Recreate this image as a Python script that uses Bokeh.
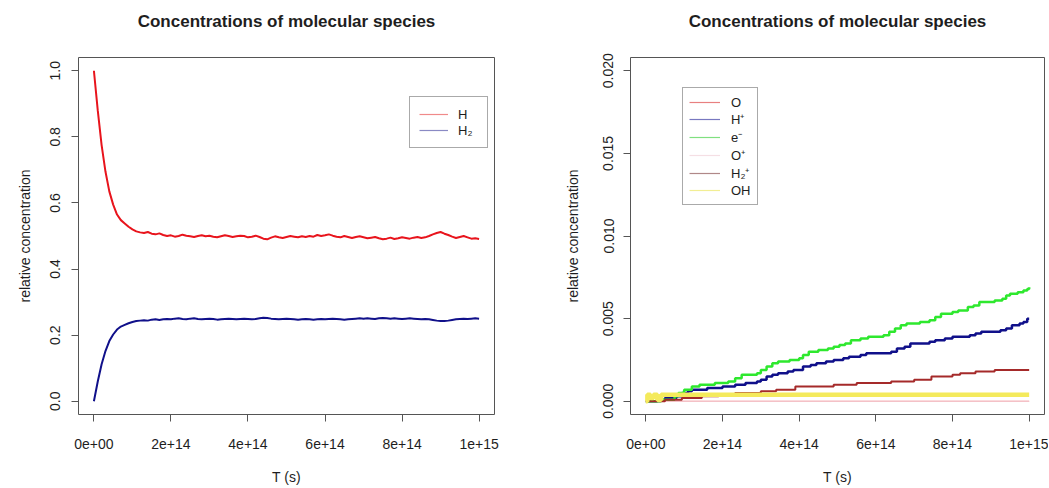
from bokeh.plotting import figure
from bokeh.models import FixedTicker, Legend, LegendItem, Range1d, Title
from bokeh.layouts import row
from bokeh.embed import file_html
from bokeh.resources import INLINE

FONT = "Liberation Sans"
TXT = "#1e1e1e"
BOX = "#555555"
NAN = float("nan")

# ---------------- data ----------------
title_text = "Concentrations of molecular species"
x_label = "T (s)"
y_label = "relative concentration"

x_ticks = [0, 200000000000000, 400000000000000, 600000000000000, 800000000000000, 1000000000000000]
x_tick_labels = ["0e+00", "2e+14", "4e+14", "6e+14", "8e+14", "1e+15"]
left_y_ticks = [0.0, 0.2, 0.4, 0.6, 0.8, 1.0]
left_y_tick_labels = ["0.0", "0.2", "0.4", "0.6", "0.8", "1.0"]
right_y_ticks = [0.0, 0.005, 0.01, 0.015, 0.02]
right_y_tick_labels = ["0.000", "0.005", "0.010", "0.015", "0.020"]

# left panel: time in units of 1e13 s
t_left = list(range(0, 101))
H = [1.000, 0.880, 0.775, 0.695, 0.635, 0.595, 0.565, 0.548, 0.538, 0.528,
     0.520, 0.514, 0.511, 0.509, 0.512, 0.507, 0.505, 0.508, 0.503, 0.500,
     0.502, 0.498, 0.500, 0.504, 0.501, 0.499, 0.497, 0.500, 0.502, 0.499,
     0.501, 0.498, 0.496, 0.499, 0.502, 0.500, 0.497, 0.499, 0.501, 0.500,
     0.496, 0.498, 0.501, 0.497, 0.492, 0.490, 0.495, 0.499, 0.496, 0.494,
     0.497, 0.500, 0.498, 0.496, 0.499, 0.497, 0.500, 0.498, 0.503, 0.500,
     0.502, 0.505, 0.501, 0.498, 0.496, 0.500, 0.497, 0.494, 0.497, 0.499,
     0.496, 0.493, 0.495, 0.497, 0.493, 0.490, 0.492, 0.495, 0.491, 0.493,
     0.496, 0.494, 0.492, 0.495, 0.497, 0.494, 0.496, 0.500, 0.505, 0.509,
     0.512, 0.507, 0.503, 0.498, 0.494, 0.497, 0.500, 0.496, 0.492, 0.493,
     0.491]
H2 = [0.000, 0.060, 0.112, 0.152, 0.182, 0.202, 0.217, 0.226, 0.231, 0.236,
      0.240, 0.243, 0.244, 0.245, 0.244, 0.247, 0.248, 0.246, 0.248, 0.249,
      0.248, 0.250, 0.251, 0.249, 0.248, 0.250, 0.251, 0.249, 0.248, 0.249,
      0.250, 0.249, 0.247, 0.248, 0.249, 0.250, 0.249, 0.248, 0.249, 0.250,
      0.249, 0.248, 0.249, 0.251, 0.253, 0.252, 0.250, 0.249, 0.248, 0.249,
      0.250, 0.249, 0.248, 0.247, 0.248, 0.249, 0.248, 0.247, 0.248, 0.249,
      0.248, 0.249, 0.250, 0.249, 0.248, 0.247, 0.248, 0.249, 0.250, 0.251,
      0.250, 0.251, 0.250, 0.249, 0.251, 0.252, 0.251, 0.250, 0.251, 0.250,
      0.249, 0.250, 0.251, 0.250, 0.249, 0.248, 0.249, 0.248, 0.246, 0.244,
      0.243, 0.243, 0.244, 0.246, 0.248, 0.249, 0.250, 0.249, 0.250, 0.251,
      0.250]

# right panel: step series, time in units of 1e15 s
O_t = [0.0, 1.0]
O_v = [0.0, 0.0]
Op_t = [0.0, 1.0]
Op_v = [0.0, 0.0]
Hp_t = [0.0, 0.03, 0.05, 0.08, 0.094, 0.11, 0.12, 0.16, 0.20, 0.233, 0.26, 0.29,
        0.30, 0.315, 0.33, 0.345, 0.37, 0.385, 0.41, 0.43, 0.445, 0.47, 0.49,
        0.515, 0.53, 0.56, 0.575, 0.64, 0.655, 0.675, 0.69, 0.74, 0.755, 0.78,
        0.80, 0.845, 0.86, 0.875, 0.925, 0.94, 0.955, 0.975, 0.985, 0.995, 1.0]
Hp_v = [0.0, 0.0001, 0.0002, 0.0003, 0.0005, 0.0006, 0.0007, 0.0008, 0.0009,
        0.0010, 0.0011, 0.0012, 0.0013, 0.0015, 0.0016, 0.0017, 0.0018, 0.0019,
        0.0021, 0.0022, 0.0023, 0.0024, 0.0025, 0.0026, 0.0027, 0.0028, 0.0029,
        0.0030, 0.0032, 0.0033, 0.0035, 0.0036, 0.0037, 0.0038, 0.0039, 0.0040,
        0.0041, 0.0042, 0.0043, 0.0044, 0.0046, 0.0047, 0.0048, 0.0050, 0.0050]
e_t = [0.0, 0.04, 0.075, 0.085, 0.10, 0.12, 0.14, 0.18, 0.215, 0.233, 0.25, 0.29,
       0.30, 0.315, 0.33, 0.345, 0.375, 0.40, 0.41, 0.425, 0.45, 0.475, 0.49,
       0.505, 0.52, 0.535, 0.56, 0.58, 0.62, 0.635, 0.65, 0.665, 0.68, 0.715,
       0.74, 0.755, 0.77, 0.80, 0.815, 0.84, 0.855, 0.87, 0.91, 0.93, 0.94,
       0.95, 0.97, 0.985, 0.995, 1.0]
e_v = [0.0, 0.0001, 0.0003, 0.0005, 0.0007, 0.0009, 0.0010, 0.0011, 0.0012,
       0.0014, 0.0016, 0.0017, 0.0019, 0.0021, 0.0023, 0.0024, 0.0025, 0.0026,
       0.0028, 0.0030, 0.0031, 0.0032, 0.0033, 0.0034, 0.0035, 0.0037, 0.0038,
       0.0039, 0.0040, 0.0042, 0.0044, 0.0046, 0.0047, 0.0048, 0.0049, 0.0051,
       0.0053, 0.0054, 0.0055, 0.0057, 0.0058, 0.0060, 0.0061, 0.0062, 0.0064,
       0.0065, 0.0066, 0.0067, 0.0068, 0.0069]
H2p_t = [0.0, 0.05, 0.094, 0.146, 0.19, 0.233, 0.30, 0.34, 0.39, 0.49, 0.55,
         0.64, 0.70, 0.745, 0.80, 0.82, 0.86, 0.91, 1.0]
H2p_v = [0.0, 0.0001, 0.0002, 0.0003, 0.0004, 0.0005, 0.0006, 0.0007, 0.0009,
         0.0010, 0.0011, 0.0012, 0.0013, 0.0015, 0.0016, 0.0017, 0.0018, 0.0019,
         0.0019]
OH_t = [0.0, 0.004, 0.012, 0.02, 0.03, 0.04, 1.0]
OH_v = [0.0, 0.0004, 0.0002, 0.0004, 0.0001, 0.0004, 0.0004]

left_names = ["H", "H\u2082"]
right_names = ["O", "H\u207a", "e\u207b", "O\u207a", "H\u2082\u207a", "OH"]


def style(p, yticks, ylabels):
    p.xgrid.visible = False
    p.ygrid.visible = False
    p.outline_line_color = BOX
    p.outline_line_width = 1
    p.background_fill_color = "white"
    p.border_fill_color = "white"
    # main title (outermost)
    p.title.text = title_text
    p.title.text_font = FONT
    p.title.text_font_size = "17px"
    p.title.text_font_style = "bold"
    p.title.text_color = TXT
    p.title.align = "center"
    p.title.standoff = 0
    # blank spacer between the frame and the title
    p.add_layout(Title(text=" ", text_font_size="1px", standoff=24), "above")
    p.xaxis.ticker = FixedTicker(ticks=x_ticks)
    p.xaxis.major_label_overrides = dict(zip(x_ticks, x_tick_labels))
    p.yaxis.ticker = FixedTicker(ticks=yticks)
    p.yaxis.major_label_overrides = dict(zip(yticks, ylabels))
    p.yaxis.major_label_orientation = "vertical"
    p.xaxis.axis_label = x_label
    p.yaxis.axis_label = y_label
    for ax in (p.xaxis, p.yaxis):
        ax.axis_line_color = None
        ax.major_tick_line_color = BOX
        ax.major_tick_out = 7
        ax.major_tick_in = 0
        ax.minor_tick_line_color = None
        ax.major_label_text_font = FONT
        ax.major_label_text_font_size = "14px"
        ax.major_label_text_color = TXT
        ax.axis_label_text_font = FONT
        ax.axis_label_text_font_size = "14px"
        ax.axis_label_text_font_style = "normal"
        ax.axis_label_text_color = TXT
    p.xaxis.major_label_standoff = 17
    p.xaxis.axis_label_standoff = 17
    p.yaxis.major_label_standoff = 11
    p.yaxis.axis_label_standoff = 15


def legend_line(p, col):
    return p.line([NAN], [NAN], line_color=col, line_width=1.2)


# ---------------- left panel ----------------
p1 = figure(width=540, height=487, output_backend="svg", toolbar_location=None,
            x_range=Range1d(-0.04e15, 1.04e15), y_range=Range1d(-0.04, 1.04),
            min_border_left=78, min_border_right=46, min_border_top=57,
            min_border_bottom=67)
style(p1, left_y_ticks, left_y_tick_labels)
tl = [t * 1e13 for t in t_left]
p1.line(tl, H, line_color="#e8141c", line_width=2)
p1.line(tl, H2, line_color="#10108a", line_width=2)
lg1 = legend_line(p1, "#f08a8a")
lg2 = legend_line(p1, "#8a8ac4")
leg1 = Legend(items=[LegendItem(label=left_names[0], renderers=[lg1]),
                     LegendItem(label=left_names[1], renderers=[lg2])],
              location=(331, 266), padding=9, spacing=0, margin=0,
              label_height=16, glyph_height=16, glyph_width=29, label_standoff=10,
              label_text_font=FONT, label_text_font_size="13px", label_text_color=TXT,
              border_line_color=BOX, border_line_width=1, background_fill_color="white",
              background_fill_alpha=1.0)
p1.add_layout(leg1)

# ---------------- right panel ----------------
p2 = figure(width=508, height=487, output_backend="svg", toolbar_location=None,
            x_range=Range1d(-0.04e15, 1.04e15), y_range=Range1d(-0.0008, 0.0208),
            min_border_left=90, min_border_right=4, min_border_top=57,
            min_border_bottom=71)
style(p2, right_y_ticks, right_y_tick_labels)
p2.yaxis.major_label_standoff = 10
p2.yaxis.axis_label_standoff = 20


def sec(ts):
    return [t * 1e15 for t in ts]


p2.step(sec(O_t), O_v, mode="after", line_color="#f07070", line_width=1)
p2.step(sec(Op_t), Op_v, mode="after", line_color="#f5d0d8", line_width=1)
p2.step(sec(Hp_t), Hp_v, mode="after", line_color="#10108a", line_width=2.5)
p2.step(sec(e_t), e_v, mode="after", line_color="#2ee82e", line_width=2.5)
p2.step(sec(H2p_t), H2p_v, mode="after", line_color="#a52a2a", line_width=2)
p2.step(sec(OH_t), OH_v, mode="after", line_color="#f4ea5c", line_width=4.5)

leg_colors = ["#e88080", "#7878c0", "#80e080", "#f5dfe4", "#b08888", "#f2ee94"]
items = []
for name, col in zip(right_names, leg_colors):
    r = legend_line(p2, col)
    items.append(LegendItem(label=name, renderers=[r]))
leg2 = Legend(items=items, location=(52, 209), padding=6, spacing=0, margin=0,
              label_height=16, glyph_height=16, glyph_width=31, label_standoff=11,
              label_text_font=FONT, label_text_font_size="13px", label_text_color=TXT,
              border_line_color=BOX, border_line_width=1, background_fill_color="white",
              background_fill_alpha=1.0)
p2.add_layout(leg2)

layout = row(p1, p2)
open("out.html", "w").write(file_html(layout, INLINE))
